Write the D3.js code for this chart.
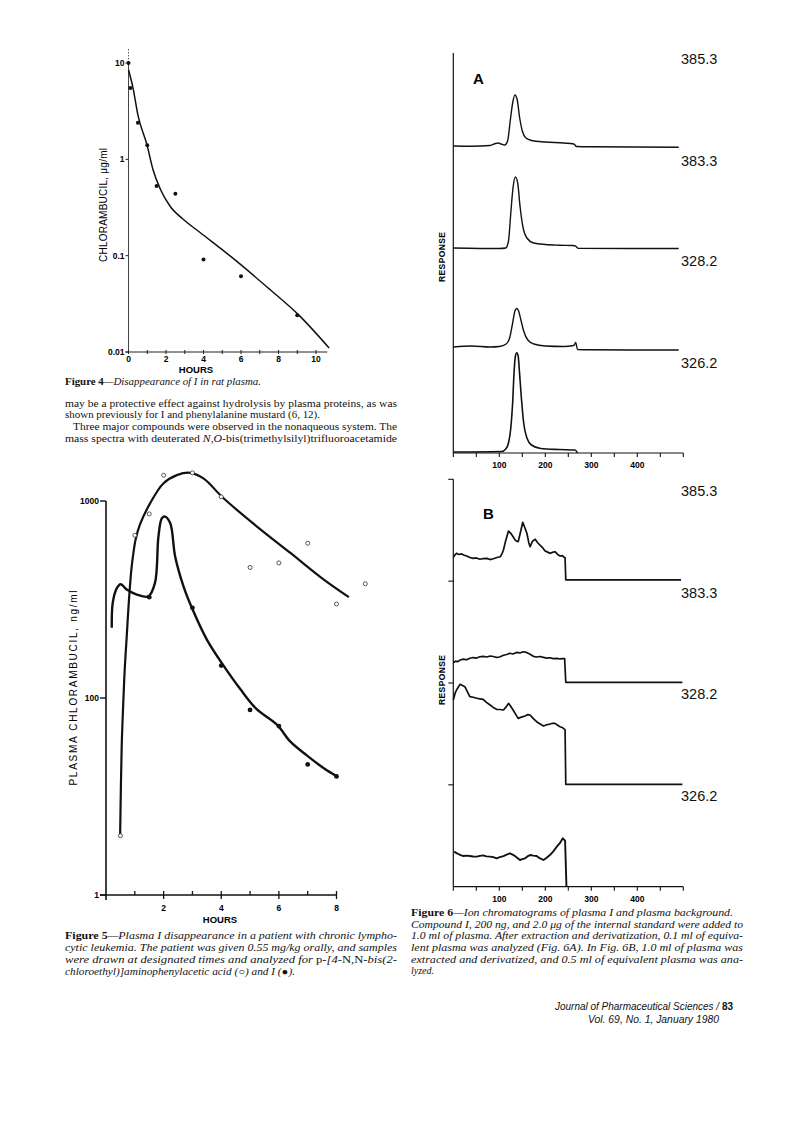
<!DOCTYPE html>
<html><head><meta charset="utf-8">
<script src="https://cdn.jsdelivr.net/npm/d3@7"></script>
<style>body{margin:0;background:#fff} svg{display:block}</style>
</head><body>
<svg id="page" width="792" height="1128"></svg>
<script>
// ---------- Figure 4 data ----------
const fig4Hours = [0, 0.1, 0.5, 1, 1.5, 2.5, 4, 6, 9];
const fig4Conc = [10, 5.5, 2.4, 1.4, 0.53, 0.44, 0.091, 0.061, 0.024];
const fig4FitHours = [0, 0.25, 0.5, 1, 1.3, 1.7, 2.2, 2.9, 3.8, 5.6, 7.4, 9.1, 10.7];
const fig4FitConc = [8.5, 5.4, 2.9, 1.38, 0.79, 0.49, 0.33, 0.24, 0.175, 0.093, 0.047, 0.024, 0.011];
const fig4YTicks = [10, 1, 0.1, 0.01];
const fig4YTickLabels = ["10", "1", "0.1", "0.01"];
const fig4XTicks = [0,1,2,3,4,5,6,7,8,9,10];
const fig4XTickLabels = ["0","","2","","4","","6","","8","","10"];

// ---------- Figure 5 data ----------
const fig5MetabHours = [0.5, 1, 1.5, 2, 3, 4, 5, 6, 7, 8, 9];
const fig5MetabConc = [20, 670, 860, 1350, 1390, 1050, 460, 485, 610, 300, 380];
const fig5MetabFitHours = [0.49, 0.545, 0.6, 0.65, 0.72, 0.79, 0.88, 0.95, 1.03, 1.18, 1.53, 1.99, 2.46, 2.92, 3.38, 4.08, 5.24, 6.4, 7.56, 8.43];
const fig5MetabFitConc = [20, 57, 95, 140, 206, 304, 448, 544, 640, 760, 973, 1228, 1353, 1390, 1302, 1032, 742, 545, 399, 325];
const fig5DrugHours = [1.5, 3, 4, 5, 6, 7, 8];
const fig5DrugConc = [325, 287, 146, 87, 72, 46, 40];
const fig5DrugFitHours = [0.2, 0.233, 0.372, 0.51, 0.72, 1.07, 1.47, 1.7, 1.82, 1.94, 2.05, 2.23, 2.4, 2.69, 2.98, 3.5, 4.08, 4.66, 5.22, 5.94, 6.4, 6.98, 7.56, 8.02];
const fig5DrugFitConc = [227, 303, 360, 378, 355, 335, 328, 384, 660, 818, 833, 771, 523, 369, 287, 198, 146, 111, 88, 73, 60, 51, 44, 40];
const fig5YTicks = [10, 100, 1000];
const fig5YTickLabels = ["1", "100", "1000"];
const fig5XTicks = [1,2,3,4,5,6,7,8];
const fig5XTickLabels = ["","2","","4","","6","","8"];

// ---------- Figure 6 data (time, response in channel units) ----------
const ionLabels = ["385.3", "383.3", "328.2", "326.2"];
const fig6XTicks = [0,50,100,150,200,250,300,350,400,450,500];
const fig6XTickLabels = ["","","100","","200","","300","","400","",""];
const traceA385 = [[0,3.07],[40,3.068],[80,3.075],[92,3.095],[98,3.10],[104,3.09],[112,3.08],[118,3.12],[124,3.33],[129,3.50],[134,3.58],[139,3.53],[144,3.36],[150,3.22],[158,3.15],[170,3.125],[200,3.11],[240,3.10],[262,3.09],[268,3.065],[300,3.062],[490,3.057]];
const traceA383 = [[0,2.05],[100,2.045],[114,2.05],[120,2.12],[125,2.40],[130,2.66],[135,2.76],[140,2.70],[145,2.47],[151,2.27],[160,2.15],[175,2.10],[200,2.085],[230,2.078],[260,2.075],[266,2.068],[272,2.046],[490,2.045]];
const traceA328 = [[0,1.06],[40,1.07],[80,1.06],[100,1.065],[115,1.09],[123,1.16],[129,1.30],[134,1.42],[138,1.445],[142,1.42],[147,1.33],[153,1.22],[162,1.13],[175,1.09],[200,1.07],[240,1.065],[262,1.075],[266,1.105],[270,1.035],[300,1.032],[490,1.03]];
const traceA326 = [[0,0.01],[105,0.015],[114,0.04],[120,0.10],[125,0.25],[129,0.50],[132,0.80],[135,0.97],[138,1.003],[141,0.97],[144,0.80],[148,0.55],[153,0.30],[160,0.15],[170,0.08],[190,0.045],[230,0.035],[265,0.03],[270,0.0]];
const traceB385 = [[0,3.234],[4,3.26],[7,3.273],[12,3.262],[18,3.267],[24,3.255],[29,3.247],[36,3.232],[43,3.224],[50,3.228],[58,3.215],[65,3.222],[73,3.224],[80,3.212],[87,3.22],[95,3.232],[102,3.24],[106,3.27],[109,3.306],[114,3.40],[120,3.492],[125,3.47],[130,3.436],[135,3.40],[141,3.387],[146,3.48],[151,3.578],[156,3.52],[160,3.47],[164,3.38],[167,3.338],[172,3.39],[178,3.411],[183,3.38],[188,3.355],[194,3.33],[199,3.299],[205,3.285],[210,3.273],[215,3.282],[221,3.289],[227,3.262],[232,3.247],[237,3.25],[241,3.234],[243,3.23],[244.5,3.012],[495,3.012]];
const traceB383 = [[0,2.199],[5,2.215],[10,2.21],[15,2.226],[22,2.235],[29,2.228],[36,2.243],[43,2.25],[50,2.245],[58,2.258],[65,2.262],[73,2.255],[80,2.265],[87,2.26],[95,2.25],[102,2.258],[109,2.272],[116,2.28],[123,2.292],[130,2.285],[137,2.30],[145,2.295],[152,2.307],[159,2.30],[166,2.285],[174,2.262],[181,2.255],[188,2.26],[196,2.252],[203,2.245],[210,2.248],[217,2.239],[225,2.242],[232,2.236],[238,2.24],[242,2.239],[244.5,2.007],[498,2.007]];
const traceB328 = [[0,1.833],[4,1.90],[7,1.931],[11,1.96],[15,1.987],[20,1.975],[25,1.964],[30,1.92],[36,1.866],[43,1.86],[51,1.85],[58,1.845],[65,1.84],[72,1.81],[80,1.784],[87,1.76],[94,1.742],[101,1.74],[109,1.735],[114,1.76],[120,1.80],[125,1.77],[130,1.735],[136,1.69],[141,1.653],[148,1.665],[156,1.676],[162,1.69],[167,1.686],[174,1.65],[181,1.62],[188,1.60],[196,1.578],[203,1.59],[210,1.597],[216,1.605],[221,1.604],[227,1.585],[232,1.571],[238,1.56],[243,1.539],[244.5,1.005],[498,1.005]];
const traceB326 = [[2,0.344],[7,0.33],[11,0.321],[16,0.31],[22,0.301],[29,0.305],[36,0.301],[43,0.296],[51,0.295],[58,0.302],[65,0.308],[72,0.298],[80,0.295],[87,0.29],[94,0.279],[101,0.29],[109,0.301],[116,0.315],[123,0.328],[129,0.315],[134,0.301],[140,0.28],[145,0.262],[150,0.27],[156,0.279],[162,0.3],[167,0.311],[174,0.305],[181,0.301],[188,0.28],[196,0.262],[203,0.285],[210,0.311],[218,0.35],[225,0.393],[232,0.43],[238,0.475],[243,0.452],[246,0]];
const panelBTicks = [1, 2, 3, 4];

// ---------- Text ----------
const fig4Caption = [["b","Figure 4"],["i","\u2014Disappearance of I in rat plasma."]];
const bodyLines = [
  [["r","may be a protective effect against hydrolysis by plasma proteins, as was"]],
  [["r","shown previously for I and phenylalanine mustard (6, 12)."]],
  [["r","Three major compounds were observed in the nonaqueous system. The"]],
  [["r","mass spectra with deuterated "],["i","N,O"],["r","-bis(trimethylsilyl)trifluoroacetamide"]]
];
const fig5CaptionLines = [
  [["b","Figure 5"],["i","\u2014Plasma I disappearance in a patient with chronic lympho-"]],
  [["i","cytic leukemia. The patient was given 0.55 mg/kg orally, and samples"]],
  [["i","were drawn at designated times and analyzed for "],["r","p-"],["i","[4-"],["r","N,N"],["i","-bis(2-"]],
  [["i","chloroethyl)]aminophenylacetic acid (\u25CB) and I (\u25CF)."]]
];
const fig6CaptionLines = [
  [["b","Figure 6"],["i","\u2014Ion chromatograms of plasma I and plasma background."]],
  [["i","Compound I, 200 ng, and 2.0 \u03BCg of the internal standard were added to"]],
  [["i","1.0 ml of plasma. After extraction and derivatization, 0.1 ml of equiva-"]],
  [["i","lent plasma was analyzed (Fig. 6A). In Fig. 6B, 1.0 ml of plasma was"]],
  [["i","extracted and derivatized, and 0.5 ml of equivalent plasma was ana-"]],
  [["i","lyzed."]]
];
const footerLines = [
  [["si","Journal of Pharmaceutical Sciences / "],["sb","83"]],
  [["si","Vol. 69, No. 1, January 1980"]]
];

// ---------- Drawing ----------
const svg = d3.select("#page");
svg.append("rect").attr("width", 792).attr("height", 1128).attr("fill", "#fff");
const SANS = "'Liberation Sans', Arial, sans-serif";
const SERIF = "'Liberation Serif', 'Times New Roman', serif";

function styleSpan(t, kind) {
  if (kind === "b") t.attr("font-weight", "bold").attr("font-family", SERIF);
  else if (kind === "i") t.attr("font-style", "italic").attr("font-family", SERIF);
  else if (kind === "r") t.attr("font-family", SERIF);
  else if (kind === "si") t.attr("font-style", "italic").attr("font-family", SANS);
  else if (kind === "sb") t.attr("font-weight", "bold").attr("font-family", SANS);
}
function textLine(x, y, parts, size, width) {
  const t = svg.append("text").attr("x", x).attr("y", y).attr("font-size", size).attr("fill", "#111");
  parts.forEach(p => styleSpan(t.append("tspan").text(p[1]), p[0]));
  if (width) t.attr("textLength", width).attr("lengthAdjust", "spacingAndGlyphs");
  return t;
}

// ===== Figure 4 =====
const dec4 = 96.33;
const x4 = d3.scaleLinear().domain([0, 10.6]).range([128.5, 128.5 + 10.6 * 18.75]);
const y4 = d3.scaleLog().domain([0.01, 14]).range([352, 352 - Math.log10(1400) * dec4]);
const g4 = svg.append("g");
g4.append("line").attr("x1", x4(0)).attr("x2", x4(0)).attr("y1", y4(14)).attr("y2", y4(10))
  .attr("stroke", "#444").attr("stroke-width", 0.9).attr("stroke-dasharray", "1.5,1.5");
g4.append("line").attr("x1", x4(0)).attr("x2", x4(0)).attr("y1", y4(10)).attr("y2", y4(0.01))
  .attr("stroke", "#444").attr("stroke-width", 1);
g4.append("line").attr("x1", x4(0) - 3).attr("x2", x4(10.6)).attr("y1", y4(0.01)).attr("y2", y4(0.01))
  .attr("stroke", "#222").attr("stroke-width", 1.1);
fig4YTicks.forEach((v, i) => {
  g4.append("line").attr("x1", x4(0) - 3).attr("x2", x4(0)).attr("y1", y4(v)).attr("y2", y4(v)).attr("stroke", "#222");
  g4.append("text").attr("x", x4(0) - 4).attr("y", y4(v) + 3).attr("text-anchor", "end")
    .attr("font-family", SANS).attr("font-weight", "bold").attr("font-size", 8.5).text(fig4YTickLabels[i]);
});
fig4XTicks.forEach((v, i) => {
  g4.append("line").attr("x1", x4(v)).attr("x2", x4(v)).attr("y1", y4(0.01) - 2).attr("y2", y4(0.01) + 2).attr("stroke", "#222");
  g4.append("text").attr("x", x4(v)).attr("y", y4(0.01) + 9.5).attr("text-anchor", "middle")
    .attr("font-family", SANS).attr("font-weight", "bold").attr("font-size", 8.5).text(fig4XTickLabels[i]);
});
g4.append("text").attr("x", 196).attr("y", 372.5).attr("text-anchor", "middle")
  .attr("font-family", SANS).attr("font-weight", "bold").attr("font-size", 9.5).text("HOURS");
g4.append("text").attr("transform", "translate(107,205) rotate(-90)").attr("text-anchor", "middle")
  .attr("font-family", SANS).attr("font-size", 10).attr("textLength", 114).text("CHLORAMBUCIL, \u03BCg/ml");
const line4 = d3.line().x(d => x4(d[0])).y(d => y4(d[1])).curve(d3.curveMonotoneX);
g4.append("path").attr("d", line4(d3.zip(fig4FitHours, fig4FitConc)))
  .attr("fill", "none").attr("stroke", "#111").attr("stroke-width", 1.5);
g4.selectAll("circle.p").data(d3.zip(fig4Hours, fig4Conc)).join("circle")
  .attr("cx", d => x4(d[0])).attr("cy", d => y4(d[1])).attr("r", 2).attr("fill", "#111");

// ===== Figure 5 =====
const x5 = d3.scaleLinear().domain([0, 8]).range([106, 336.5]);
const y5 = d3.scaleLog().domain([10, 1000]).range([895, 501]);
const g5 = svg.append("g");
g5.append("line").attr("x1", x5(0)).attr("x2", x5(0)).attr("y1", y5(1000)).attr("y2", y5(10) + 5)
  .attr("stroke", "#111").attr("stroke-width", 1.6);
g5.append("line").attr("x1", x5(0) - 6).attr("x2", x5(8)).attr("y1", y5(10)).attr("y2", y5(10))
  .attr("stroke", "#111").attr("stroke-width", 1.6);
fig5YTicks.forEach((v, i) => {
  g5.append("line").attr("x1", x5(0) - 6).attr("x2", x5(0)).attr("y1", y5(v)).attr("y2", y5(v))
    .attr("stroke", "#111").attr("stroke-width", 1.4);
  g5.append("text").attr("x", x5(0) - 7).attr("y", y5(v) + 3).attr("text-anchor", "end")
    .attr("font-family", SANS).attr("font-weight", "bold").attr("font-size", 8.5).text(fig5YTickLabels[i]);
});
fig5XTicks.forEach((v, i) => {
  const major = fig5XTickLabels[i] !== "";
  g5.append("line").attr("x1", x5(v)).attr("x2", x5(v)).attr("y1", y5(10) - 4).attr("y2", y5(10) + (major ? 4 : 0))
    .attr("stroke", "#111").attr("stroke-width", 1.3);
  g5.append("text").attr("x", x5(v)).attr("y", y5(10) + 16).attr("text-anchor", "middle")
    .attr("font-family", SANS).attr("font-weight", "bold").attr("font-size", 8.5).text(fig5XTickLabels[i]);
});
g5.append("text").attr("x", 220).attr("y", 923).attr("text-anchor", "middle")
  .attr("font-family", SANS).attr("font-weight", "bold").attr("font-size", 9.5).text("HOURS");
g5.append("text").attr("transform", "translate(77,688) rotate(-90)").attr("text-anchor", "middle")
  .attr("font-family", SANS).attr("font-size", 10).attr("textLength", 195).text("PLASMA CHLORAMBUCIL, ng/ml");
const line5 = d3.line().x(d => x5(d[0])).y(d => y5(d[1])).curve(d3.curveCatmullRom.alpha(0.5));
g5.append("path").attr("d", line5(d3.zip(fig5MetabFitHours, fig5MetabFitConc)))
  .attr("fill", "none").attr("stroke", "#111").attr("stroke-width", 2.2);
g5.append("path").attr("d", line5(d3.zip(fig5DrugFitHours, fig5DrugFitConc)))
  .attr("fill", "none").attr("stroke", "#111").attr("stroke-width", 2.4);
g5.selectAll("circle.o").data(d3.zip(fig5MetabHours, fig5MetabConc)).join("circle").attr("class", "o")
  .attr("cx", d => x5(d[0])).attr("cy", d => y5(d[1])).attr("r", 2)
  .attr("fill", "#fff").attr("stroke", "#444").attr("stroke-width", 0.9);
g5.selectAll("circle.f").data(d3.zip(fig5DrugHours, fig5DrugConc)).join("circle").attr("class", "f")
  .attr("cx", d => x5(d[0])).attr("cy", d => y5(d[1])).attr("r", 2.4).attr("fill", "#111");

// ===== Figure 6 =====
function panel(yTop, yBot, traces, letter, letterPos, labelYs, respY, leftTicks) {
  const xs = d3.scaleLinear().domain([0, 500]).range([453.3, 683.3]);
  const ys = d3.scaleLinear().domain([0, 4]).range([yBot, yTop]);
  const g = svg.append("g");
  g.append("line").attr("x1", xs(0)).attr("x2", xs(0)).attr("y1", ys(4)).attr("y2", ys(0)).attr("stroke", "#111").attr("stroke-width", 1.2);
  g.append("line").attr("x1", xs(0)).attr("x2", xs(500)).attr("y1", ys(0)).attr("y2", ys(0)).attr("stroke", "#111").attr("stroke-width", 1.2);
  fig6XTicks.forEach((v, i) => {
    g.append("line").attr("x1", xs(v)).attr("x2", xs(v)).attr("y1", ys(0)).attr("y2", ys(0) + 4).attr("stroke", "#111").attr("stroke-width", 1.1);
    g.append("text").attr("x", xs(v)).attr("y", ys(0) + 15).attr("text-anchor", "middle")
      .attr("font-family", SANS).attr("font-weight", "bold").attr("font-size", 8.5).text(fig6XTickLabels[i]);
  });
  if (leftTicks) leftTicks.forEach(v => {
    g.append("line").attr("x1", xs(0) - 5).attr("x2", xs(0)).attr("y1", ys(v)).attr("y2", ys(v)).attr("stroke", "#111").attr("stroke-width", 1.1);
  });
  const ln = d3.line().x(d => xs(d[0])).y(d => ys(d[1]));
  traces.forEach(tr => {
    g.append("path").attr("d", ln.curve(tr.curve)(tr.data)).attr("fill", "none")
      .attr("stroke", "#111").attr("stroke-width", tr.w).attr("stroke-linejoin", "round");
  });
  ionLabels.forEach((lab, i) => {
    g.append("text").attr("x", 681).attr("y", labelYs[i]).attr("font-family", SANS).attr("font-size", 14.5).attr("fill", "#111").text(lab);
  });
  g.append("text").attr("x", letterPos[0]).attr("y", letterPos[1]).attr("font-family", "'Liberation Sans Narrow', 'Liberation Sans', sans-serif")
    .attr("font-weight", "bold").attr("font-size", 15).text(letter);
  g.append("text").attr("transform", `translate(445,${respY}) rotate(-90)`).attr("text-anchor", "middle")
    .attr("font-family", SANS).attr("font-weight", "bold").attr("font-size", 8.5).attr("textLength", 50).text("RESPONSE");
}
panel(53, 453, [
  {data: traceA385, curve: d3.curveMonotoneX, w: 1.4},
  {data: traceA383, curve: d3.curveMonotoneX, w: 1.4},
  {data: traceA328, curve: d3.curveMonotoneX, w: 1.4},
  {data: traceA326, curve: d3.curveMonotoneX, w: 1.6}
], "A", [473, 84], [63.5, 165.5, 266, 368], 257, null);
panel(479.3, 886.7, [
  {data: traceB385, curve: d3.curveLinear, w: 1.7},
  {data: traceB383, curve: d3.curveLinear, w: 1.7},
  {data: traceB328, curve: d3.curveLinear, w: 1.7},
  {data: traceB326, curve: d3.curveLinear, w: 1.9}
], "B", [483, 519], [496, 598, 699, 801], 680, panelBTicks);

// ===== Text blocks =====
textLine(65, 384.5, fig4Caption, 10, 196);
textLine(65, 406.5, bodyLines[0], 10, 332);
textLine(65, 418, bodyLines[1], 10, 255);
textLine(73, 429.5, bodyLines[2], 10, 324);
textLine(65, 441.5, bodyLines[3], 10, 332);
fig5CaptionLines.forEach((ln, i) => textLine(65, 938.5 + 12.2 * i, ln, 10, i < 3 ? 332 : 230));
fig6CaptionLines.forEach((ln, i) => textLine(411, 916 + 11.65 * i, ln, 10, i === 0 ? 322 : (i < 5 ? 332 : null)));
textLine(555, 1009.5, footerLines[0], 10, 178);
textLine(588, 1023, footerLines[1], 10, 131);
</script>
</body></html>
